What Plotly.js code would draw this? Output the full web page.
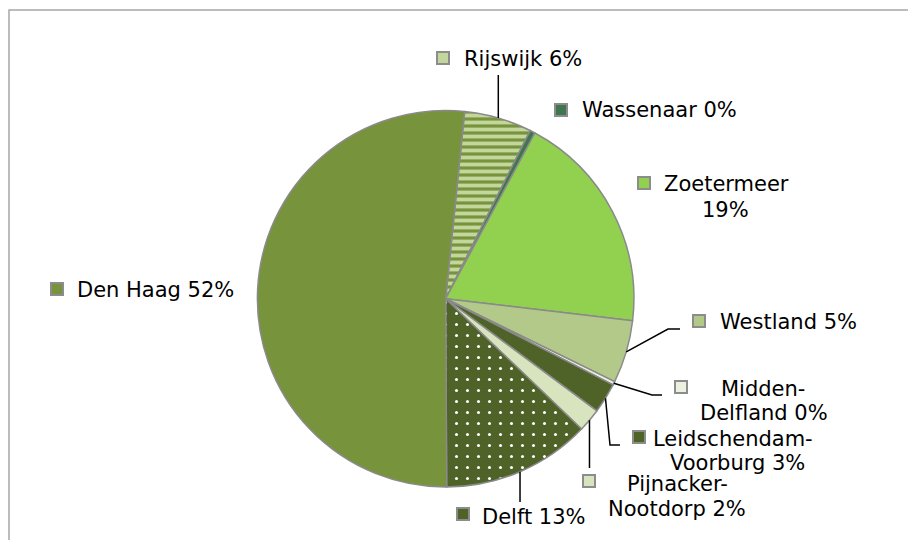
<!DOCTYPE html>
<html><head><meta charset="utf-8">
<script src="https://cdn.plot.ly/plotly-3.0.1.min.js"></script>
<style>html,body{margin:0;padding:0;background:#fff;overflow:hidden}#chart{width:908px;height:540px}</style>
</head><body><div id="chart"></div>
<script>
// ---- data (clockwise from the top of the pie) ----
const categories = ["Rijswijk", "Wassenaar", "Zoetermeer", "Westland", "Midden-Delfland",
                    "Leidschendam-Voorburg", "Pijnacker-Nootdorp", "Delft", "Den Haag"];
const shares = [5.8, 0.45, 19.0, 5.4, 0.3, 2.6, 2.0, 12.75, 51.7];

// ---- styles ----
const sliceColors = ["#77933C", "#3F7650", "#92D050", "#B2C98A", "#EBF1DE",
                     "#4F6228", "#D7E4BD", "#4F6228", "#77933C"];
const keyColors   = ["#C3D69B", "#3F7650", "#92D050", "#B2C98A", "#EBF1DE",
                     "#4F6228", "#D7E4BD", "#4F6228", "#77933C"];
const patShapes   = ["-", "", "", "", "", "", "", ".", ""];
const patFg       = ["#C3D69B", "#000", "#000", "#000", "#000", "#000", "#000", "#FFFFFF", "#000"];
const patSize     = [7, 8, 8, 8, 8, 8, 8, 11, 8];
const patSolidity = [0.55, 0.3, 0.3, 0.3, 0.3, 0.3, 0.3, 0.06, 0.3];
const ROTATION = 5.8;

// label placement in pixels: centre of each text line, key square centre, leader points after the slice edge
const W = 908, H = 540;
const labelPos = [
  {lines: [[523, 59]],             sx: 443, sy: 58,  wrap: "",     leader: [[null, 75]]},
  {lines: [[659, 110]],            sx: 561, sy: 110, wrap: "",     leader: null},
  {lines: [[726, 184], [725, 210]], sx: 644, sy: 183, wrap: "pct",  leader: null},
  {lines: [[788, 322]],            sx: 699, sy: 321, wrap: "",     leader: [[668, 329], [680, 329]]},
  {lines: [[763, 389], [764, 413]], sx: 681, sy: 387, wrap: "dash", leader: [[652, 395], [662, 395]]},
  {lines: [[733, 439], [737, 463]], sx: 639, sy: 437, wrap: "dash", leader: [[610, 445], [620, 445]]},
  {lines: [[677, 484], [677, 509]], sx: 589, sy: 481, wrap: "dash", leader: [[null, 468]]},
  {lines: [[534, 517]],            sx: 463, sy: 514, wrap: "",     leader: [[null, 502]]},
  {lines: [[155, 290]],            sx: 57,  sy: 289, wrap: "",     leader: null}
];

const px = x => x / W;
const py = y => 1 - y / H;

const trace = {
  type: "pie",
  labels: categories,
  values: shares,
  sort: false,
  direction: "clockwise",
  rotation: ROTATION,
  textinfo: "none",
  hoverinfo: "label+percent",
  domain: {x: [257.3 / W, 634 / W], y: [(H - 487) / H, (H - 110.5) / H]},
  marker: {
    colors: sliceColors,
    line: {color: "#8A8A8A", width: 1.5},
    pattern: {shape: patShapes, fgcolor: patFg, bgcolor: sliceColors, size: patSize, solidity: patSolidity, fillmode: "replace"}
  },
  showlegend: false
};

const font = {family: "DejaVu Sans, Verdana, sans-serif", size: 21, color: "#000"};

function labelLines(i) {
  const name = categories[i];
  const pct = Math.round(shares[i]) + "%";
  const w = labelPos[i].wrap;
  if (w === "dash") {
    const k = name.indexOf("-");
    return [name.slice(0, k + 1), name.slice(k + 1) + " " + pct];
  }
  if (w === "pct") return [name, pct];
  return [name + " " + pct];
}

const annotations = [];
categories.forEach((c, i) => {
  labelLines(i).forEach((t, j) => {
    const [lx, ly] = labelPos[i].lines[j];
    annotations.push({
      xref: "paper", yref: "paper", x: px(lx), y: py(ly),
      xanchor: "center", yanchor: "middle", align: "center",
      text: t, showarrow: false, font: font, borderpad: 0
    });
  });
});

function baseShapes() {
  const s = [{
    type: "rect", xref: "paper", yref: "paper", layer: "below",
    x0: px(9), x1: px(930), y0: py(560), y1: py(10),
    line: {color: "#A6A6A6", width: 1.5}, fillcolor: "rgba(0,0,0,0)"
  }];
  categories.forEach((c, i) => {
    const p = labelPos[i];
    s.push({
      type: "rect", xref: "paper", yref: "paper",
      x0: px(p.sx - 6), x1: px(p.sx + 6), y0: py(p.sy + 6), y1: py(p.sy - 6),
      fillcolor: keyColors[i], line: {color: "#8C8C8C", width: 2}
    });
  });
  return s;
}

const layout = {
  width: W, height: H,
  margin: {l: 0, r: 0, t: 0, b: 0},
  paper_bgcolor: "#ffffff",
  annotations: annotations,
  shapes: baseShapes()
};

const gd = document.getElementById("chart");
Plotly.newPlot(gd, [trace], layout, {staticPlot: true}).then(() => {
  const cd = gd.calcdata[0];
  const cx = cd[0].cx, cy = cd[0].cy, r = cd[0].r;
  const total = shares.reduce((a, b) => a + b, 0);
  const shapes = baseShapes();
  let cum = 0;
  shares.forEach((v, i) => {
    const mid = (ROTATION + 360 * (cum + v / 2) / total) * Math.PI / 180;
    cum += v;
    const p = labelPos[i];
    if (!p.leader) return;
    const ex = cx + r * Math.sin(mid), ey = cy - r * Math.cos(mid);
    let path = "M" + px(ex) + "," + py(ey);
    p.leader.forEach(([x, y]) => {
      const lx = x === null ? ex : x;
      path += " L" + px(lx) + "," + py(y);
    });
    shapes.push({type: "path", xref: "paper", yref: "paper", path: path,
                 line: {color: "#000", width: 1.5}});
  });
  return Plotly.relayout(gd, {shapes: shapes});
});
</script>
</body></html>
